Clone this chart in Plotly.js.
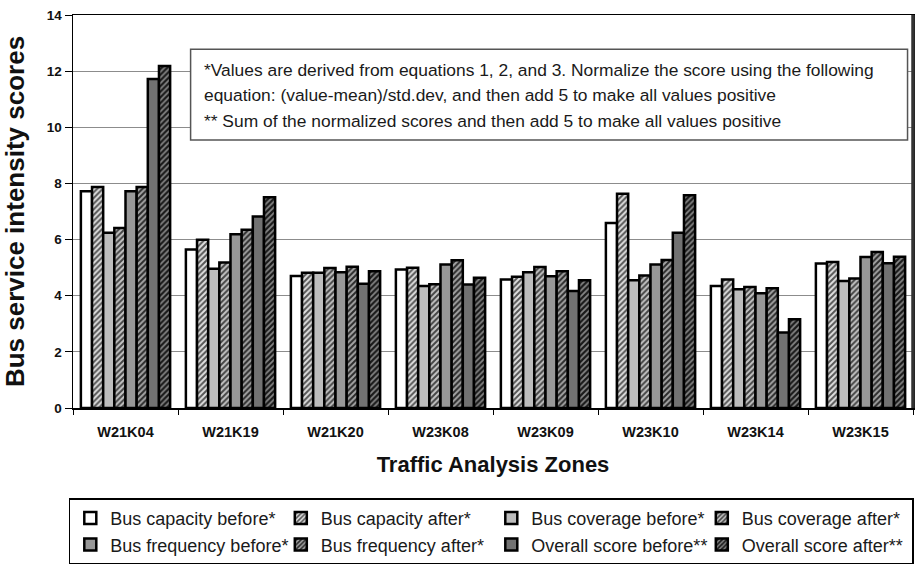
<!DOCTYPE html>
<html>
<head>
<meta charset="utf-8">
<script src="https://cdn.plot.ly/plotly-3.0.1.min.js"></script>
<style>html,body{margin:0;padding:0;background:#fff;}#chart{width:917px;height:568px;}</style>
</head>
<body>
<div id="chart"></div>
<script>
const zones = ["W21K04","W21K19","W21K20","W23K08","W23K09","W23K10","W23K14","W23K15"];
const capacityBefore = [7.72, 5.65, 4.70, 4.93, 4.58, 6.59, 4.35, 5.15];
const capacityAfter  = [7.87, 5.99, 4.82, 5.00, 4.68, 7.63, 4.58, 5.20];
const coverageBefore = [6.24, 4.96, 4.82, 4.35, 4.84, 4.55, 4.23, 4.52];
const coverageAfter  = [6.41, 5.18, 4.99, 4.41, 5.02, 4.72, 4.31, 4.61];
const frequencyBefore= [7.72, 6.19, 4.84, 5.11, 4.69, 5.11, 4.09, 5.38];
const frequencyAfter = [7.87, 6.35, 5.03, 5.26, 4.87, 5.27, 4.27, 5.56];
const overallBefore  = [11.72, 6.82, 4.43, 4.40, 4.17, 6.24, 2.69, 5.16];
const overallAfter   = [12.18, 7.51, 4.87, 4.64, 4.55, 7.58, 3.16, 5.39];
const seriesNames = ["Bus capacity before*","Bus capacity after*","Bus coverage before*","Bus coverage after*",
                     "Bus frequency before*","Bus frequency after*","Overall score before**","Overall score after**"];
const noteLines = [
  "*Values are derived from equations 1, 2, and 3. Normalize the score using the following",
  "equation: (value-mean)/std.dev, and then add 5 to make all values positive",
  "** Sum of the normalized scores and then add 5 to make all values positive"
];

const seriesValues = [capacityBefore, capacityAfter, coverageBefore, coverageAfter,
                      frequencyBefore, frequencyAfter, overallBefore, overallAfter];
const styles = [
  {color:"#ffffff"},
  {color:"#e0e0e0", pattern:{shape:"/", fgcolor:"#555555", bgcolor:"#e0e0e0", size:4, solidity:0.5}},
  {color:"#bdbdbd"},
  {color:"#c4c4c4", pattern:{shape:"/", fgcolor:"#444444", bgcolor:"#c4c4c4", size:4, solidity:0.5}},
  {color:"#989898"},
  {color:"#a4a4a4", pattern:{shape:"/", fgcolor:"#2a2a2a", bgcolor:"#a4a4a4", size:4, solidity:0.5}},
  {color:"#727272"},
  {color:"#868686", pattern:{shape:"/", fgcolor:"#1a1a1a", bgcolor:"#868686", size:4, solidity:0.55}}
];

const FONT = "Liberation Sans, Arial, sans-serif";
const traces = seriesNames.map((name, i) => {
  const m = {color: styles[i].color, line:{color:"#000000", width:2.5}};
  if (styles[i].pattern) m.pattern = styles[i].pattern;
  return {type:"bar", name:name, x:zones, y:seriesValues[i], marker:m};
});

const annotations = noteLines.map((t, i) => ({
  text: t, xref:"paper", yref:"paper",
  x: 0.1536, xanchor:"left",
  y: (408.3 - (70 + i*25.3)) / 393.3, yanchor:"middle",
  showarrow:false, align:"left",
  font:{family:FONT, size:17.4, color:"#1a1a1a"}
}));

const layout = {
  width:917, height:568,
  margin:{l:73, r:4, t:15, b:160},
  paper_bgcolor:"#ffffff", plot_bgcolor:"#ffffff",
  barmode:"group", bargap:0.15, bargroupgap:0,
  showlegend:true,
  legend:{orientation:"h", x:-0.005, xanchor:"left", y:-0.398, yanchor:"bottom",
          entrywidth:165.5, entrywidthmode:"pixels",
          bordercolor:"#000000", borderwidth:1.5, bgcolor:"#ffffff",
          font:{family:FONT, size:18, color:"#1a1a1a"}, traceorder:"normal"},
  xaxis:{type:"category", showgrid:false, showline:true, linecolor:"#000000", linewidth:1.5,
         mirror:true, ticks:"outside", tickson:"boundaries", ticklen:5, tickcolor:"#000000",
         ticklabelstandoff:10,
         tickfont:{family:FONT, size:14.5, color:"#111111", weight:"bold"},
         title:{text:"Traffic Analysis Zones", standoff:17,
                font:{family:FONT, size:22, color:"#111111", weight:"bold"}}},
  yaxis:{range:[0,14], dtick:2, showgrid:true, gridcolor:"#8c8c8c", gridwidth:1,
         showline:true, linecolor:"#000000", linewidth:1.5, mirror:true, zeroline:false,
         ticks:"outside", ticklen:7, tickcolor:"#000000",
         tickfont:{family:FONT, size:13.5, color:"#111111", weight:"bold"},
         title:{text:"Bus service intensity scores", standoff:16,
                font:{family:FONT, size:26, color:"#111111", weight:"bold"}}},
  shapes:[
    {type:"rect", xref:"paper", yref:"paper", x0:0.140, x1:0.9935, y0:0.682, y1:0.913,
     fillcolor:"#ffffff", line:{color:"#555555", width:1.5}, layer:"above"},
    {type:"line", xref:"paper", yref:"paper", x0:1, x1:1, y0:0, y1:1,
     line:{color:"#333333", width:3.5}, layer:"above"}
  ],
  annotations:annotations
};

Plotly.newPlot("chart", traces, layout, {displayModeBar:false, staticPlot:true});
</script>
</body>
</html>
